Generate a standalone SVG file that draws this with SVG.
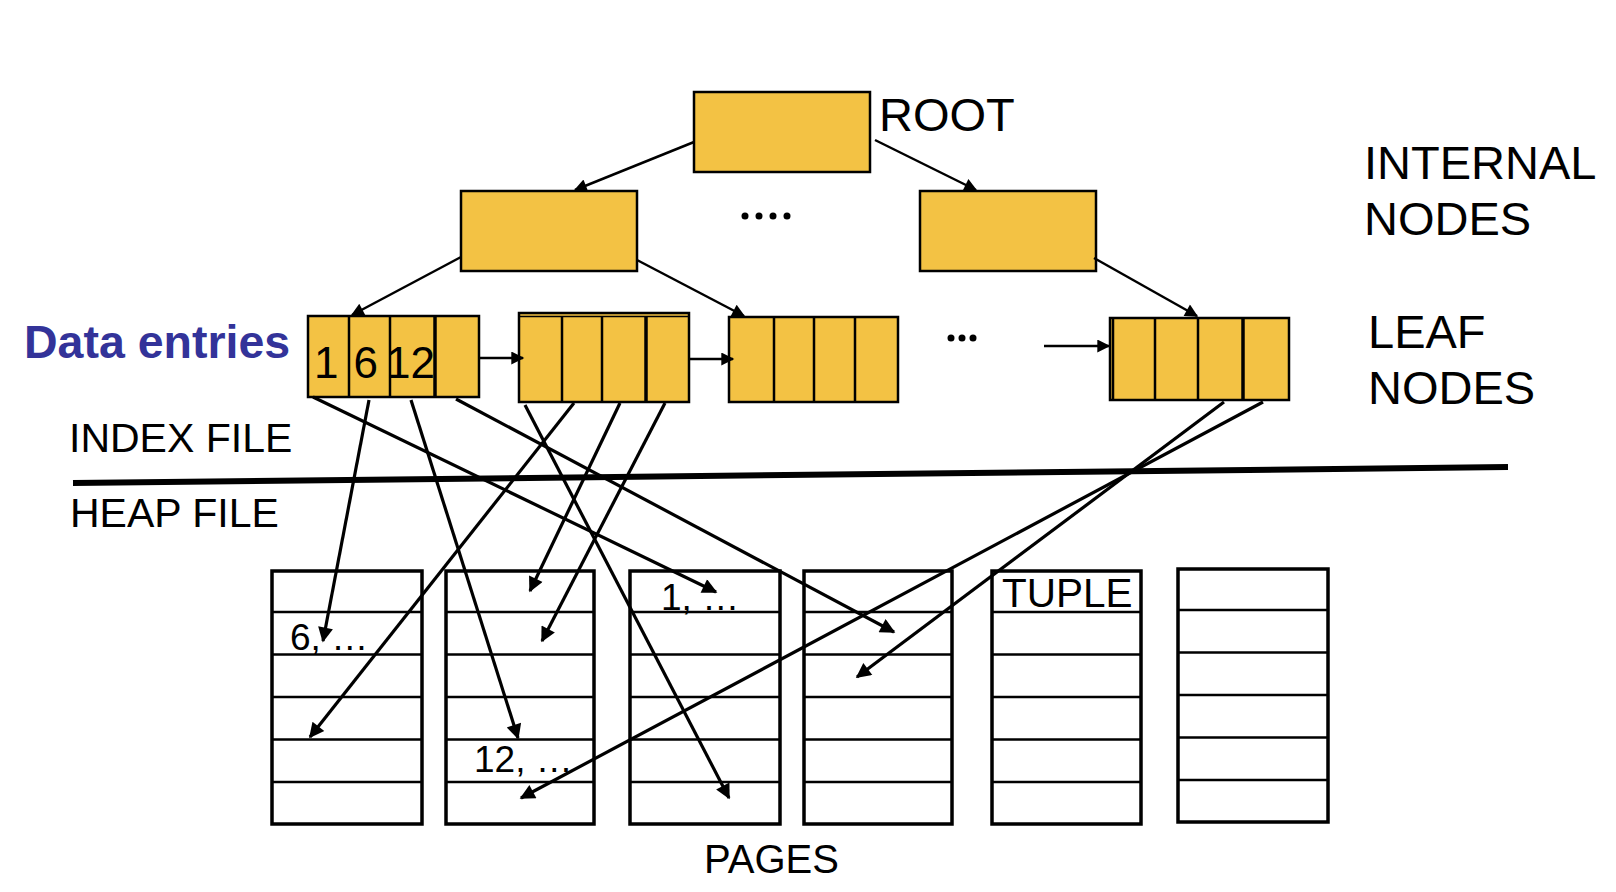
<svg xmlns="http://www.w3.org/2000/svg" width="1616" height="892" viewBox="0 0 1616 892">
<style>
.nd{fill:#F3C244;stroke:#000;stroke-width:2.5}
.dv{stroke:#000;stroke-width:2.5}
.dvt{stroke:#000;stroke-width:3.5}
.pg{fill:#fff;stroke:#000;stroke-width:3.5}
.rw{stroke:#000;stroke-width:2.5}
.t{font-family:"Liberation Sans",Arial,sans-serif;fill:#000}
.cn line{stroke:#000;stroke-width:3.2;fill:none}
.cn .tr{stroke-width:2.5}
</style>
<defs>
<marker id="ah" viewBox="0 0 10 10" refX="9" refY="5" markerWidth="20" markerHeight="15" markerUnits="userSpaceOnUse" orient="auto"><path d="M0,0 L10,5 L0,10 z" fill="#000"/></marker>
<marker id="as" viewBox="0 0 10 10" refX="9" refY="5" markerWidth="17" markerHeight="13" markerUnits="userSpaceOnUse" orient="auto"><path d="M0,0 L10,5 L0,10 z" fill="#000"/></marker>
</defs>
<rect width="1616" height="892" fill="#fff"/>

<!-- tree nodes -->
<g id="root"><rect class="nd" x="694" y="92" width="176" height="80"/></g>
<g id="internal-left"><rect class="nd" x="461" y="191" width="176" height="80"/></g>
<g id="internal-right"><rect class="nd" x="920" y="191" width="176" height="80"/></g>

<g id="leaf1">
<rect class="nd" x="308" y="316" width="171" height="81"/>
<line class="dv" x1="349" y1="316" x2="349" y2="397"/>
<line class="dv" x1="390" y1="316" x2="390" y2="397"/>
<line class="dvt" x1="435" y1="316" x2="435" y2="397"/>
<text class="t" x="314" y="378" font-size="44">1</text>
<text class="t" x="353.5" y="378" font-size="44">6</text>
<text class="t" x="386" y="378" font-size="44">12</text>
</g>
<g id="leaf2">
<rect class="nd" x="519" y="313" width="170" height="89"/>
<line stroke="#000" stroke-width="1.5" x1="519" y1="316.5" x2="689" y2="316.5"/>
<line class="dv" x1="562" y1="316" x2="562" y2="402"/>
<line class="dv" x1="602" y1="316" x2="602" y2="402"/>
<line class="dvt" x1="646" y1="316" x2="646" y2="402"/>
</g>
<g id="leaf3">
<rect class="nd" x="729" y="317" width="169" height="85" stroke-width="3.5"/>
<line class="dv" x1="774" y1="317" x2="774" y2="402"/>
<line class="dv" x1="814" y1="317" x2="814" y2="402"/>
<line class="dv" x1="855" y1="317" x2="855" y2="402"/>
</g>
<g id="leaf4">
<rect class="nd" x="1110" y="318" width="179" height="82" stroke-width="3"/>
<line class="dv" x1="1113" y1="318" x2="1113" y2="400"/>
<line class="dv" x1="1155" y1="318" x2="1155" y2="400"/>
<line class="dv" x1="1198" y1="318" x2="1198" y2="400"/>
<line class="dvt" x1="1243" y1="318" x2="1243" y2="400"/>
</g>

<!-- heap pages -->
<g id="page1">
<rect class="pg" x="272" y="571" width="150" height="253"/>
<line class="rw" x1="272" y1="612" x2="422" y2="612"/><line class="rw" x1="272" y1="654.5" x2="422" y2="654.5"/><line class="rw" x1="272" y1="697" x2="422" y2="697"/><line class="rw" x1="272" y1="739.5" x2="422" y2="739.5"/><line class="rw" x1="272" y1="782" x2="422" y2="782"/>
<text class="t" x="290" y="650" font-size="37">6, …</text>
</g>
<g id="page2">
<rect class="pg" x="446" y="571" width="148" height="253"/>
<line class="rw" x1="446" y1="612" x2="594" y2="612"/><line class="rw" x1="446" y1="654.5" x2="594" y2="654.5"/><line class="rw" x1="446" y1="697" x2="594" y2="697"/><line class="rw" x1="446" y1="739.5" x2="594" y2="739.5"/><line class="rw" x1="446" y1="782" x2="594" y2="782"/>
<text class="t" x="474" y="772" font-size="37">12, …</text>
</g>
<g id="page3">
<rect class="pg" x="630" y="571" width="150" height="253"/>
<line class="rw" x1="630" y1="612" x2="780" y2="612"/><line class="rw" x1="630" y1="654.5" x2="780" y2="654.5"/><line class="rw" x1="630" y1="697" x2="780" y2="697"/><line class="rw" x1="630" y1="739.5" x2="780" y2="739.5"/><line class="rw" x1="630" y1="782" x2="780" y2="782"/>
<text class="t" x="661" y="610" font-size="37">1, …</text>
</g>
<g id="page4">
<rect class="pg" x="804" y="571" width="148" height="253"/>
<line class="rw" x1="804" y1="612" x2="952" y2="612"/><line class="rw" x1="804" y1="654.5" x2="952" y2="654.5"/><line class="rw" x1="804" y1="697" x2="952" y2="697"/><line class="rw" x1="804" y1="739.5" x2="952" y2="739.5"/><line class="rw" x1="804" y1="782" x2="952" y2="782"/>
</g>
<g id="page5">
<rect class="pg" x="992" y="571" width="149" height="253"/>
<line class="rw" x1="992" y1="612" x2="1141" y2="612"/><line class="rw" x1="992" y1="654.5" x2="1141" y2="654.5"/><line class="rw" x1="992" y1="697" x2="1141" y2="697"/><line class="rw" x1="992" y1="739.5" x2="1141" y2="739.5"/><line class="rw" x1="992" y1="782" x2="1141" y2="782"/>
<text class="t" x="1002" y="607" font-size="40.5">TUPLE</text>
</g>
<g id="page6">
<rect class="pg" x="1178" y="569" width="150" height="253"/>
<line class="rw" x1="1178" y1="610" x2="1328" y2="610"/><line class="rw" x1="1178" y1="652.5" x2="1328" y2="652.5"/><line class="rw" x1="1178" y1="695" x2="1328" y2="695"/><line class="rw" x1="1178" y1="737.5" x2="1328" y2="737.5"/><line class="rw" x1="1178" y1="780" x2="1328" y2="780"/>
</g>

<!-- separator -->
<g id="separator"><line x1="73" y1="483" x2="1508" y2="467" stroke="#000" stroke-width="6"/></g>

<!-- connectors -->
<g class="cn" id="connectors">
<line class="tr" x1="694" y1="142" x2="575" y2="190" marker-end="url(#as)"/>
<line class="tr" x1="875" y1="140" x2="976" y2="190" marker-end="url(#as)"/>
<line class="tr" x1="461" y1="257" x2="352" y2="315" marker-end="url(#as)"/>
<line class="tr" x1="637" y1="260" x2="744" y2="316" marker-end="url(#as)"/>
<line class="tr" x1="1094" y1="258" x2="1197" y2="316" marker-end="url(#as)"/>
<line class="tr" x1="479" y1="358" x2="523" y2="358" marker-end="url(#as)"/>
<line class="tr" x1="689" y1="359" x2="733" y2="359" marker-end="url(#as)"/>
<line class="tr" x1="1044" y1="346" x2="1109" y2="346" marker-end="url(#as)"/>

<line x1="313" y1="397" x2="716" y2="592" marker-end="url(#ah)"/>
<line x1="369" y1="400" x2="323" y2="641" marker-end="url(#ah)"/>
<line x1="411" y1="400" x2="518" y2="738" marker-end="url(#ah)"/>
<line x1="456" y1="399" x2="894" y2="632" marker-end="url(#ah)"/>
<line x1="525" y1="405" x2="729" y2="798" marker-end="url(#ah)"/>
<line x1="574" y1="403" x2="310" y2="737" marker-end="url(#ah)"/>
<line x1="620" y1="403" x2="530" y2="591" marker-end="url(#ah)"/>
<line x1="665" y1="403" x2="542" y2="641" marker-end="url(#ah)"/>
<line x1="1224" y1="402" x2="857" y2="677" marker-end="url(#ah)"/>
<line x1="1263" y1="402" x2="521" y2="798" marker-end="url(#ah)"/>
</g>

<!-- ellipses -->
<g id="dots-internal" fill="#000"><circle cx="745" cy="216" r="3.5"/><circle cx="759" cy="216" r="3.5"/><circle cx="773" cy="216" r="3.5"/><circle cx="787" cy="216" r="3.5"/></g>
<g id="dots-leaf" fill="#000"><circle cx="951" cy="338" r="3.5"/><circle cx="962" cy="338" r="3.5"/><circle cx="973" cy="338" r="3.5"/></g>

<!-- labels -->
<g id="labels">
<text class="t" x="879" y="131" font-size="47">ROOT</text>
<text class="t" x="1364" y="179" font-size="47">INTERNAL</text>
<text class="t" x="1364" y="235" font-size="47">NODES</text>
<text class="t" x="1368" y="348" font-size="47">LEAF</text>
<text class="t" x="1368" y="404" font-size="47">NODES</text>
<text x="24" y="358" font-family="'Liberation Sans',Arial,sans-serif" font-weight="bold" font-size="46.5" fill="#333399">Data entries</text>
<text class="t" x="69" y="452" font-size="41">INDEX FILE</text>
<text class="t" x="70" y="527" font-size="41">HEAP FILE</text>
<text class="t" x="704" y="873" font-size="40">PAGES</text>
</g>
</svg>
